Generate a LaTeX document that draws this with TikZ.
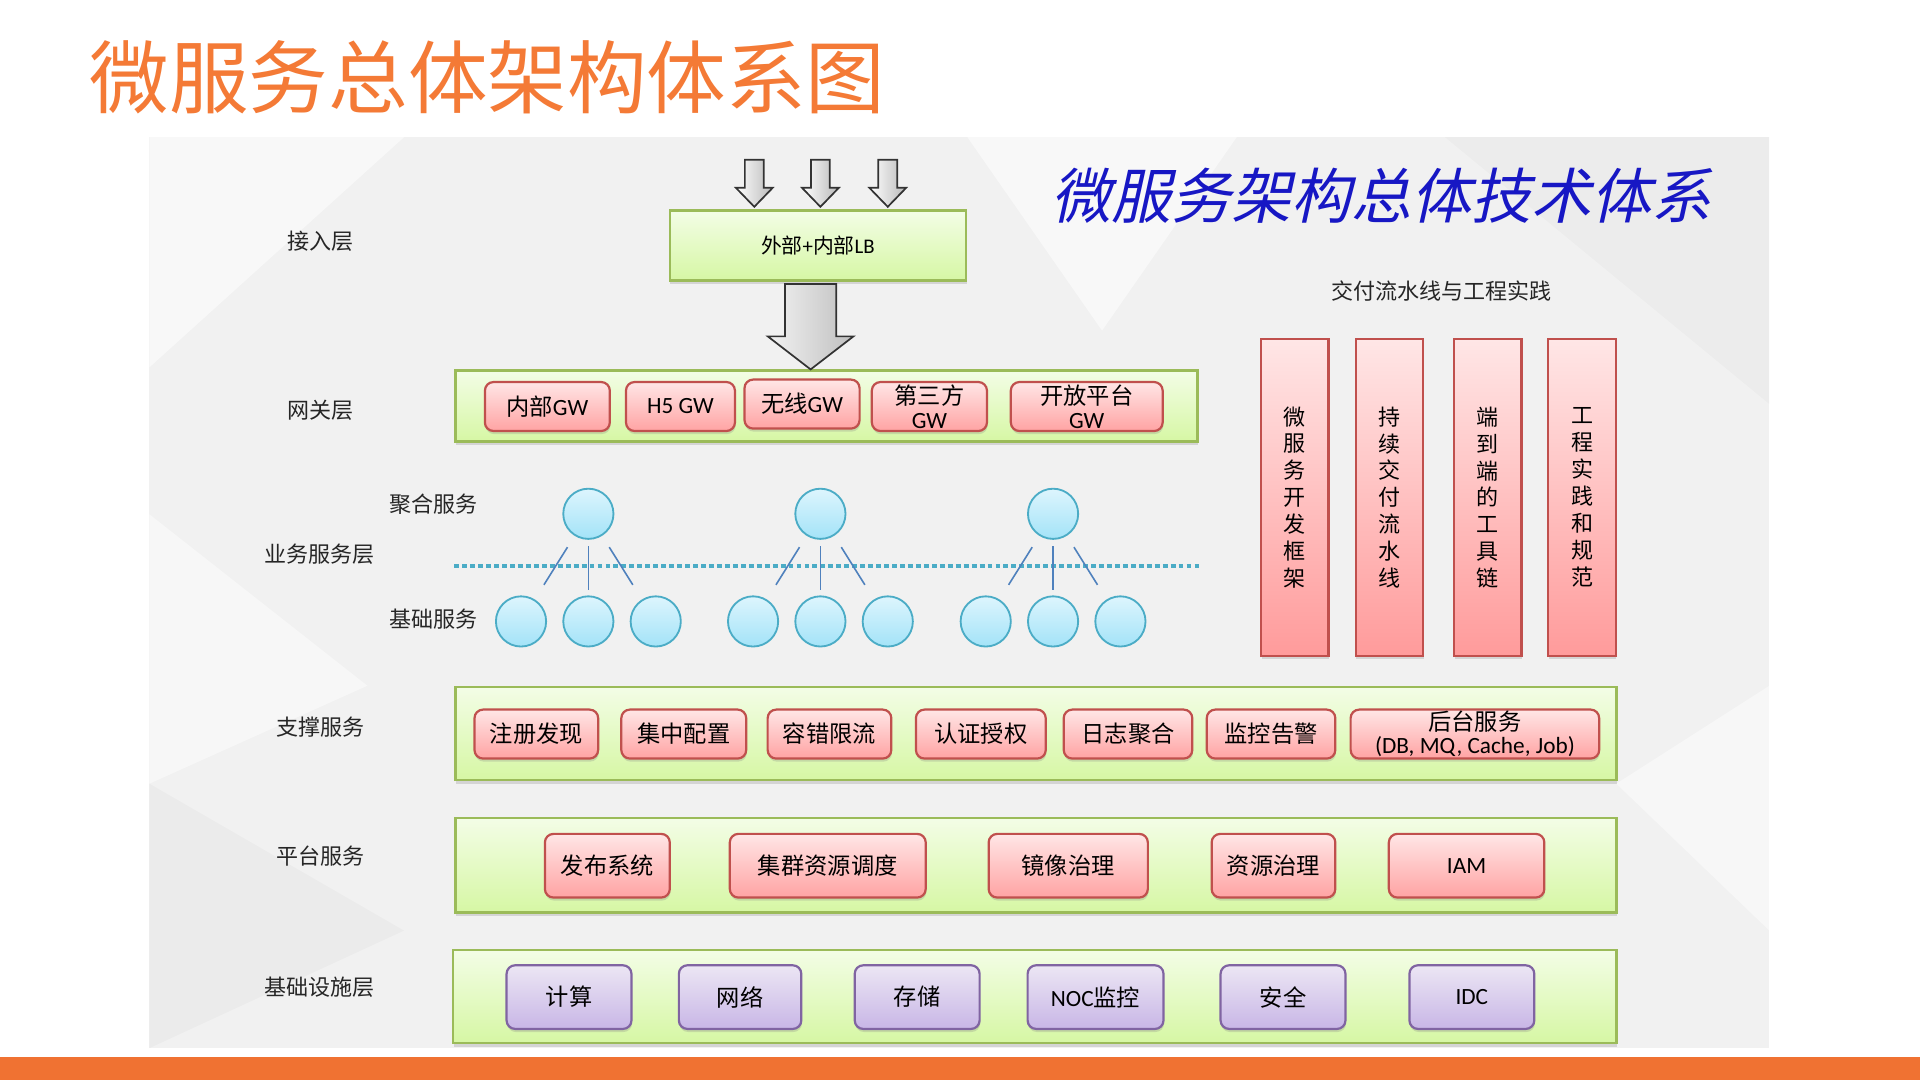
\documentclass[tikz,border=0pt]{standalone}
\usepackage{fontspec}
\setmainfont{Carlito}
\newfontfamily\cjk{Noto Sans CJK SC}
\newfontfamily\cjkslant[FakeSlant=0.22]{Noto Sans CJK SC}
\newfontfamily\lat{Carlito}
\usetikzlibrary{calc,shadows}

\definecolor{titleorange}{HTML}{F47A36}
\definecolor{barorange}{HTML}{F07232}
\definecolor{panelgray}{HTML}{F1F1F1}
\definecolor{titleblue}{HTML}{1717C4}
\definecolor{bandline}{HTML}{9BBB59}
\definecolor{bandtop}{HTML}{F3FDE6}
\definecolor{bandbot}{HTML}{D6F7A4}
\definecolor{redline}{HTML}{C0504D}
\definecolor{redtop}{HTML}{FFE6E6}
\definecolor{redbot}{HTML}{FFA3A3}
\definecolor{purpleline}{HTML}{8064A2}
\definecolor{purpletop}{HTML}{ECE6F4}
\definecolor{purplebot}{HTML}{C8B6E6}
\definecolor{bubbleline}{HTML}{4BACC6}
\definecolor{bubbletop}{HTML}{DDF5FD}
\definecolor{bubblebot}{HTML}{A3E3F8}
\definecolor{linkblue}{HTML}{4F81BD}

\tikzset{
  layer/.style={font=\cjk\fontsize{18}{22}\selectfont, text=black!85},
  band/.style={
    draw=bandline,
    line width=2pt,
    top color=bandtop,
    bottom color=bandbot,
    drop shadow={shadow xshift=0.5pt, shadow yshift=-3pt, opacity=0.25},
    inner sep=0pt
  },
  redbox/.style={
    draw=redline,
    line width=1.8pt,
    rounded corners=7pt,
    top color=redtop,
    bottom color=redbot,
    drop shadow={shadow xshift=0.5pt, shadow yshift=-2.5pt, opacity=0.25},
    font=\cjk\fontsize{19}{21}\selectfont,
    align=center,
    inner sep=0pt
  },
  purplebox/.style={
    redbox,
    draw=purpleline,
    top color=purpletop,
    bottom color=purplebot
  },
  pillar/.style={
    draw=redline,
    line width=1.8pt,
    top color=redtop,
    bottom color=redbot!95!red,
    drop shadow={shadow xshift=0.5pt, shadow yshift=-2.5pt, opacity=0.25},
    font=\cjk\fontsize{18}{22}\selectfont,
    align=center,
    minimum width=55pt,
    minimum height=259pt,
    inner sep=0pt
  },
  bubble/.style={
    circle,
    draw=bubbleline,
    line width=1.5pt,
    top color=bubbletop,
    bottom color=bubblebot,
    minimum size=41pt,
    inner sep=0pt
  },
  link/.style={draw=linkblue, line width=1.3pt},
  blockarrow/.style={
    draw=black!80,
    line width=1.4pt,
    line join=miter,
    left color=white,
    right color=gray!55
  }
}

\begin{document}
\begin{tikzpicture}[x=1pt, y=-1pt]
  \useasboundingbox (0,0) rectangle (1568,882);
  \fill[white] (0,0) rectangle (1568,882);

  \fill[panelgray] (122,112) rectangle (1445,856);
  \fill[white, opacity=0.55] (122,112) -- (330,112) -- (122,300) -- cycle;
  \fill[white, opacity=0.5] (790,112) -- (1010,112) -- (900,270) -- cycle;
  \fill[white, opacity=0.45] (122,420) -- (300,560) -- (122,640) -- cycle;
  \fill[white, opacity=0.45] (1320,640) -- (1445,560) -- (1445,760) -- cycle;
  \fill[black, opacity=0.025] (122,640) -- (330,760) -- (122,856) -- cycle;
  \fill[black, opacity=0.02] (1180,112) -- (1445,112) -- (1445,330) -- cycle;

  \fill[barorange] (0,863) rectangle (1568,882);

  \node[
    anchor=west,
    font=\cjk\fontsize{65}{70}\selectfont,
    text=titleorange,
    inner sep=0pt
  ] (title) at (73, 63) {微服务总体架构体系图};

  \node[
    font=\cjkslant\fontsize{49}{52}\selectfont,
    text=titleblue,
    inner sep=0pt
  ] (slogan) at (1128, 160) {微服务架构总体技术体系};

  % layer labels
  \node[layer] (laccess) at (262, 197) {接入层};
  \node[layer] (lgateway) at (262, 335) {网关层};
  \node[layer] (lbiz) at (261, 453) {业务服务层};
  \node[layer] (lagg) at (354, 412) {聚合服务};
  \node[layer] (lbase) at (354, 506) {基础服务};
  \node[layer] (lsupport) at (262, 594) {支撑服务};
  \node[layer] (lplatform) at (262, 699) {平台服务};
  \node[layer] (linfra) at (261, 806) {基础设施层};

  % access layer
  \node[
    band,
    minimum width=242pt,
    minimum height=57pt,
    font=\cjk\fontsize{17}{20}\selectfont
  ] (lb) at (668, 200.4) {外部{\lat +}内部{\lat LB}};

  \foreach \dx in {-52, 2, 57} {
    \coordinate (intip) at ($(lb.north)+(\dx,-2)$);
    \draw[blockarrow]
      ($(intip)+(-7.7,-38.5)$) -- ($(intip)+(7.7,-38.5)$) --
      ($(intip)+(7.7,-15.5)$) -- ($(intip)+(15,-15.5)$) -- (intip) --
      ($(intip)+(-15,-15.5)$) -- ($(intip)+(-7.7,-15.5)$) -- cycle;
  }

  % gateway layer
  \node[band, minimum width=606pt, minimum height=58pt] (gwband) at (675, 331.7) {};

  \coordinate (bigtop) at ($(lb.south)+(-6,2)$);
  \coordinate (bigtip) at (bigtop |- gwband.north);
  \draw[blockarrow, left color=gray!10, right color=gray!50]
    ($(bigtop)+(-21,0)$) -- ($(bigtop)+(21,0)$) --
    ($(bigtip)+(21,-27)$) -- ($(bigtip)+(35,-27)$) -- (bigtip) --
    ($(bigtip)+(-35,-27)$) -- ($(bigtip)+(-21,-27)$) -- cycle;

  \node[redbox, minimum width=102pt, minimum height=40pt] (gwinner) at (447, 332) {内部{\lat GW}};
  \node[redbox, minimum width=89pt, minimum height=40pt] (gwhfive) at (555.7, 332) {\lat H5 GW};
  \node[redbox, minimum width=94pt, minimum height=40pt] (gwwireless) at (655, 330) {无线{\lat GW}};
  \node[redbox, minimum width=94pt, minimum height=40pt] (gwthird) at (759, 332) {第三方\\[-1pt]{\lat GW}};
  \node[redbox, minimum width=124pt, minimum height=40pt] (gwopen) at (887.5, 332) {开放平台\\[-1pt]{\lat GW}};

  % business layer
  \draw[bubbleline, line width=3.5pt, dash pattern=on 4pt off 2.5pt]
    (gwband.west |- 0,462) -- (gwband.east |- 0,462);

  \foreach \g/\x in {a/480.5, b/670, c/860} {
    \node[bubble] (agg\g) at (\x, 419.6) {};
    \foreach \k/\dx in {1/-55, 2/0, 3/55}
      \node[bubble] (base\g\k) at (\x+\dx, 507.5) {};
    \foreach \k/\s/\e in {1/0.31/0.66, 2/0.30/0.71, 3/0.31/0.66}
      \draw[link] ($(agg\g)!\s!(base\g\k)$) -- ($(agg\g)!\e!(base\g\k)$);
  }

  % delivery pipeline
  \node[layer] (lpipeline) at (1177, 238) {交付流水线与工程实践};
  \node[pillar] (pframework) at (1057.5, 406.3) {微\\服\\务\\开\\发\\框\\架};
  \node[pillar] (pdelivery) at (1134.7, 406.3) {持\\续\\交\\付\\流\\水\\线};
  \node[pillar] (ptoolchain) at (1215, 406.3) {端\\到\\端\\的\\工\\具\\链};
  \node[pillar] (ppractice) at (1292, 406.3) {工\\程\\实\\践\\和\\规\\范};

  % support services
  \node[band, minimum width=948pt, minimum height=76pt] (supband) at (846, 599.2) {};
  \node[redbox, minimum width=101pt, minimum height=40pt] (sregistry) at (438, 599.5) {注册发现};
  \node[redbox, minimum width=102pt, minimum height=40pt] (sconfig) at (558.4, 599.5) {集中配置};
  \node[redbox, minimum width=101pt, minimum height=40pt] (sfault) at (677.4, 599.5) {容错限流};
  \node[redbox, minimum width=106pt, minimum height=40pt] (sauth) at (801, 599.5) {认证授权};
  \node[redbox, minimum width=105pt, minimum height=40pt] (slog) at (921.2, 599.5) {日志聚合};
  \node[redbox, minimum width=105pt, minimum height=40pt] (salarm) at (1038, 599.5) {监控告警};
  \node[redbox, minimum width=203pt, minimum height=40pt] (sbackend) at (1204.5, 599.5) {后台服务\\[-2pt]{\lat (DB, MQ, Cache, Job)}};

  % platform services
  \node[band, minimum width=948pt, minimum height=77pt] (platband) at (846, 706.7) {};
  \node[redbox, minimum width=102pt, minimum height=52pt] (prelease) at (496, 707) {发布系统};
  \node[redbox, minimum width=160pt, minimum height=52pt] (pscheduler) at (676, 707) {集群资源调度};
  \node[redbox, minimum width=130pt, minimum height=52pt] (pimage) at (872.4, 707) {镜像治理};
  \node[redbox, minimum width=101pt, minimum height=52pt] (presource) at (1040, 707) {资源治理};
  \node[redbox, minimum width=127pt, minimum height=52pt] (piam) at (1197.7, 707) {\lat IAM};

  % infrastructure
  \node[band, minimum width=950pt, minimum height=76pt] (infraband) at (845, 813.7) {};
  \node[purplebox, minimum width=102pt, minimum height=52pt] (icompute) at (464.7, 814.3) {计算};
  \node[purplebox, minimum width=100pt, minimum height=52pt] (inetwork) at (604.4, 814.3) {网络};
  \node[purplebox, minimum width=102pt, minimum height=52pt] (istorage) at (749, 814.3) {存储};
  \node[purplebox, minimum width=111pt, minimum height=52pt] (inoc) at (894.7, 814.3) {{\lat NOC}监控};
  \node[purplebox, minimum width=102pt, minimum height=52pt] (isecurity) at (1047.8, 814.3) {安全};
  \node[purplebox, minimum width=102pt, minimum height=52pt] (iidc) at (1202, 814.3) {\lat IDC};
\end{tikzpicture}
\end{document}
